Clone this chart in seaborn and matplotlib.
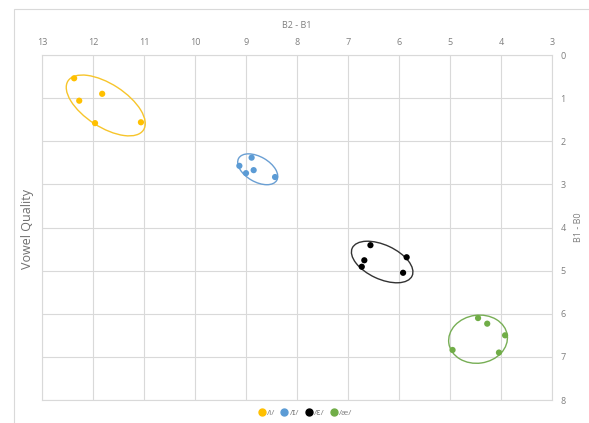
import numpy as np
import pandas as pd
import matplotlib
matplotlib.use("Agg")
import matplotlib.pyplot as plt
import seaborn as sns
from matplotlib.patches import Ellipse, Rectangle
from matplotlib.transforms import ScaledTranslation

# Vowel measurements (B2 - B1 on x, B1 - B0 on y)
vowels = ["/i/", "/ɪ/", "/ɛ/", "/æ/"]
i_x = [12.37, 12.27, 11.82, 11.96, 11.06]
i_y = [0.54, 1.06, 0.90, 1.58, 1.56]
ih_x = [8.89, 9.13, 9.00, 8.85, 8.43]
ih_y = [2.38, 2.57, 2.74, 2.67, 2.83]
eh_x = [6.56, 6.68, 6.73, 5.85, 5.92]
eh_y = [4.41, 4.76, 4.91, 4.69, 5.05]
ae_x = [4.45, 4.27, 3.92, 4.95, 4.04]
ae_y = [6.10, 6.23, 6.50, 6.84, 6.90]

colors = ["#FFC000", "#5B9BD5", "#000000", "#70AD47"]
ring_colors = ["#F7C52B", "#6A9FD3", "#333333", "#77AE55"]

# Ring around each vowel cluster: centre (data), semi-axes (px), angle (deg)
ring_cx = [11.75, 8.77, 6.33, 4.45]
ring_cy = [1.17, 2.65, 4.80, 6.59]
ring_a = [45, 22, 33, 29.5]
ring_b = [21.5, 12.5, 17, 24]
ring_ang = [-33, -30, -25, 8]

xs = [i_x, ih_x, eh_x, ae_x]
ys = [i_y, ih_y, eh_y, ae_y]
df = pd.DataFrame({
    "B2 - B1": sum(xs, []),
    "B1 - B0": sum(ys, []),
    "vowel": sum([[v] * len(x) for v, x in zip(vowels, xs)], []),
})

sns.set_theme(style="white")
plt.rcParams["font.family"] = ["Open Sans", "DejaVu Sans"]

fig = plt.figure(figsize=(5.89, 4.23), dpi=100)
ax = fig.add_axes([42 / 589, 1 - 400 / 423, (552 - 42) / 589, (400 - 55) / 423])

# outer chart frame
fig.patches.append(Rectangle((14 / 589, -0.1), 1.2, 1 - 9 / 423 + 0.1,
                             transform=fig.transFigure, fill=False,
                             edgecolor="#d9d9d9", lw=0.8, zorder=0))

sns.scatterplot(data=df, x="B2 - B1", y="B1 - B0", hue="vowel",
                palette=colors, s=20, edgecolor="none", ax=ax, legend=False,
                zorder=3)

for cx, cy, a, b, ang, c in zip(ring_cx, ring_cy, ring_a, ring_b, ring_ang, ring_colors):
    tr = fig.dpi_scale_trans + ScaledTranslation(cx, cy, ax.transData)
    ax.add_patch(Ellipse((0, 0), 2 * a / 100, 2 * b / 100, angle=ang,
                         transform=tr, fill=False, edgecolor=c, lw=1.0, zorder=2))

ax.set_xlim(13, 3)
ax.set_ylim(8, 0)
ax.set_xticks(range(13, 2, -1))
ax.set_yticks(range(0, 9))
ax.grid(True, color="#d9d9d9", lw=0.8)
for s in ax.spines.values():
    s.set_color("#d9d9d9")
    s.set_linewidth(0.8)

ax.xaxis.tick_top()
ax.xaxis.set_label_position("top")
ax.yaxis.tick_right()
ax.yaxis.set_label_position("right")
ax.tick_params(axis="both", length=0, labelsize=6.5, labelcolor="#7f7f7f")
ax.tick_params(axis="x", pad=6)
ax.tick_params(axis="y", pad=6)
ax.set_xlabel("B2 - B1", fontsize=6.5, color="#7f7f7f", labelpad=7)
ax.set_ylabel("B1 - B0", fontsize=6.5, color="#7f7f7f", labelpad=6)

fig.text(27 / 589, 1 - 229 / 423, "Vowel Quality", rotation=90, fontsize=9,
         color="#6f6f6f", ha="center", va="center")

handles = [plt.Line2D([], [], marker="o", ls="", color=c, markersize=5) for c in colors]
fig.legend(handles, vowels, loc="center", bbox_to_anchor=(305 / 589, 1 - 413 / 423),
           ncol=4, frameon=False, fontsize=6, handletextpad=0.15, columnspacing=0.6,
           handlelength=1.0, labelcolor="#7f7f7f")

fig.savefig("out.png", dpi=100)
